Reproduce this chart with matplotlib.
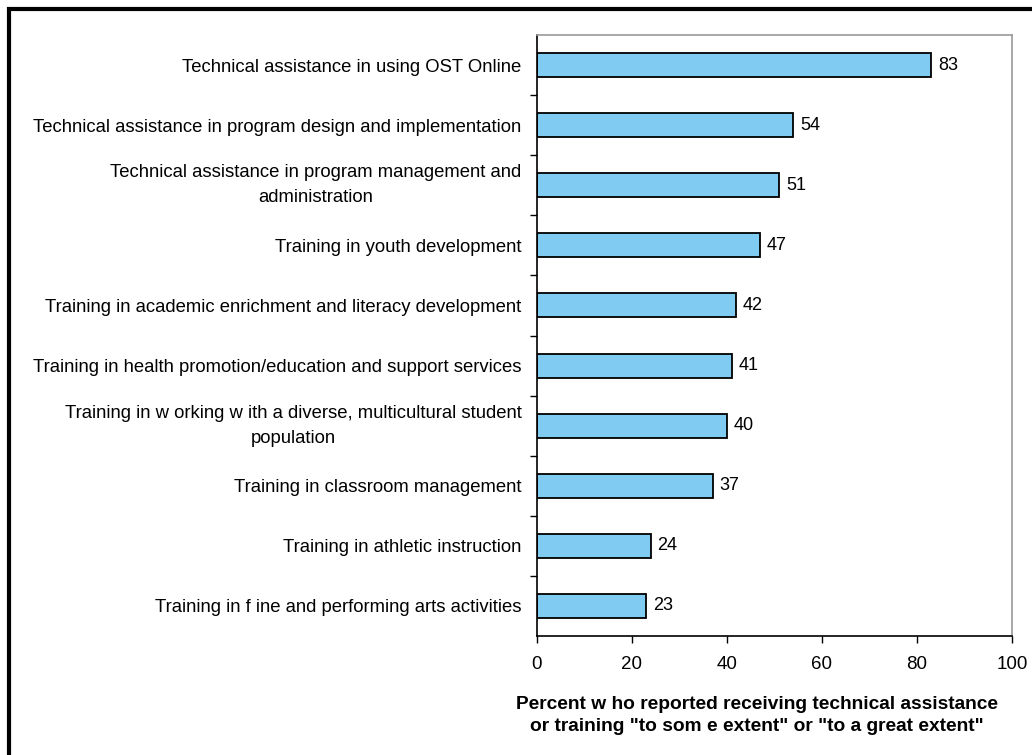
import matplotlib.pyplot as plt
from matplotlib.patches import Rectangle
from matplotlib.ticker import FixedLocator, NullFormatter

plt.rcParams["font.family"] = ["Liberation Sans", "DejaVu Sans"]

categories = [
    "Technical assistance in using OST Online",
    "Technical assistance in program design and implementation",
    "Technical assistance in program management and\nadministration",
    "Training in youth development",
    "Training in academic enrichment and literacy development",
    "Training in health promotion/education and support services",
    "Training in w orking w ith a diverse, multicultural student\npopulation",
    "Training in classroom management",
    "Training in athletic instruction",
    "Training in f ine and performing arts activities",
]
values = [83, 54, 51, 47, 42, 41, 40, 37, 24, 23]
xticks = [0, 20, 40, 60, 80, 100]
xlabel = ('Percent w ho reported receiving technical assistance\n'
          'or training "to som e extent" or "to a great extent"')

fig = plt.figure(figsize=(10.32, 7.55), dpi=100)
ax = fig.add_axes([0.5203, 0.1576, 0.4603, 0.7960])

pos = list(range(len(values)))
ax.barh(pos, values, height=0.4, color="#7fcbf1", edgecolor="black", linewidth=1.3)
for p, v in zip(pos, values):
    ax.text(v + 1.4, p, str(v), va="center", ha="left", fontsize=13)

ax.set_ylim(len(values) - 0.5, -0.5)
ax.set_xlim(0, 100)
ax.set_xticks(xticks)
ax.set_xticklabels([str(t) for t in xticks], fontsize=13.5)

ax.set_yticks(pos)
ax.set_yticklabels(categories, fontsize=13.3, multialignment="center", linespacing=1.6)
for lbl in ax.get_yticklabels():
    if "\n" in lbl.get_text():
        lbl.set_va("center")
ax.tick_params(axis="y", which="major", length=0, pad=11)
ax.yaxis.set_minor_locator(FixedLocator([p + 0.5 for p in pos[:-1]]))
ax.yaxis.set_minor_formatter(NullFormatter())
ax.tick_params(axis="y", which="minor", length=5, width=1, direction="out")
ax.tick_params(axis="x", length=5, width=1, direction="out", pad=9.5)

for s in ["left", "bottom"]:
    ax.spines[s].set_color("black")
    ax.spines[s].set_linewidth(1.2)
for s in ["top", "right"]:
    ax.spines[s].set_color("#999999")
    ax.spines[s].set_linewidth(1.2)

ax.set_xlabel(xlabel, fontsize=13.8, fontweight="bold", linespacing=1.4)
ax.xaxis.set_label_coords(0.463, -0.100, transform=ax.transAxes)
ax.xaxis.label.set_va("top")

fig.patches.append(Rectangle((0.0088, -0.1), 1.2, 1.088, transform=fig.transFigure,
                             fill=False, edgecolor="black", linewidth=3))

fig.savefig("out.png", dpi=100)
